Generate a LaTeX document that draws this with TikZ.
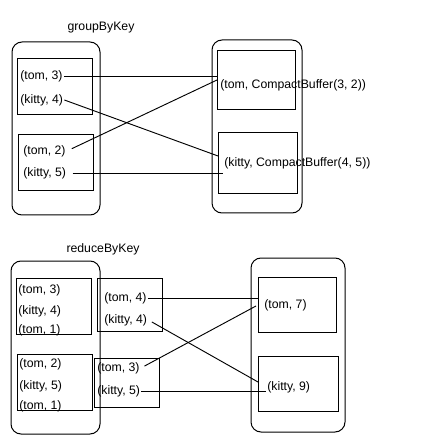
\documentclass[tikz,border=0pt]{standalone}
\usepackage{fontspec}
\setmainfont{Liberation Sans}
\usepackage{tikz}
\usetikzlibrary{positioning}

\begin{document}
\begin{tikzpicture}[x=0.75pt, y=-0.75pt,
      group/.style 2 args={draw, rounded corners=7.5pt, inner sep=0pt, line width=0.75pt, minimum width=#1*0.75pt, minimum height=#2*0.75pt},
      part/.style 2 args={draw, inner sep=0pt, line width=0.75pt, minimum width=#1*0.75pt, minimum height=#2*0.75pt},
      pair/.style={anchor=west, inner sep=0.8pt, font=\fontsize{9.2pt}{11pt}\selectfont},
      title/.style={inner sep=0pt, font=\fontsize{9.2pt}{11pt}\selectfont},
      link/.style={line width=0.7pt}
    ]
    \useasboundingbox (0,0) rectangle (420,448);
    % groupByKey
    \node[title] (gbk) at (101,28) {groupByKey};
    \node[group={88}{173}] (gbsrc) at (56,128.5) {};
    \node[part={75}{56}] (gbp1) at (54.5,87) {};
    \node[part={75}{56}] (gbp2) at (55.5,163) {};
    \node[pair] (gt3) at (19,76) {(tom, 3)};
    \node[pair, below=18pt of gt3.west, anchor=west] (gk4) {(kitty, 4)};
    \node[pair] (gt2) at (22,151) {(tom, 2)};
    \node[pair, below=17pt of gt2.west, anchor=west] (gk5) {(kitty, 5)};
    \node[group={90}{173}] (gbdst) at (257,126.5) {};
    \node[part={78}{59}] (gbq1) at (256,80.5) {};
    \node[part={79}{61}] (gbq2) at (257.5,163.5) {};
    \node[pair] (gtom) at (219,85) {(tom, CompactBuffer(3, 2))};
    \node[pair] (gkitty) at (223,163) {(kitty, CompactBuffer(4, 5))};
    \coordinate (gin1) at (217,80);
    \coordinate (gin2) at (218,156);
    \draw[link] (gt3.east) -- (gt3.east -| gbq1.west);
    \draw[link] (gk4.east) -- (gin2);
    \draw[link, shorten <=4pt] (gt2.east) -- (gin1);
    \draw[link, shorten <=4pt] (gk5.east) -- (gk5.east -| gkitty.west);
    % reduceByKey
    \node[title] (rbk) at (103,249) {reduceByKey};
    \node[group={89}{173}] (rbsrc) at (55.5,347.5) {};
    \node[part={75}{56}] (rbp1) at (53.5,306) {};
    \node[part={75}{56}] (rbp2) at (54.5,382) {};
    \node[pair] (ra3) at (17,290) {(tom, 3)};
    \node[pair] (ra4) at (17,311) {(kitty, 4)};
    \node[pair] (ra1) at (17,330) {(tom, 1)};
    \node[pair] (rb2) at (18,364) {(tom, 2)};
    \node[pair] (rb5) at (18,386) {(kitty, 5)};
    \node[pair] (rb1) at (18,406) {(tom, 1)};
    \node[part={65}{53}] (rbm1) at (129.5,304.5) {};
    \node[part={65}{49}] (rbm2) at (126.5,382.5) {};
    \node[pair] (rt4) at (103,298) {(tom, 4)};
    \node[pair] (rk4) at (103,320) {(kitty, 4)};
    \node[pair] (rt3) at (96,368) {(tom, 3)};
    \node[pair] (rk5) at (96,391) {(kitty, 5)};
    \node[group={94}{174}] (rbdst) at (298,345) {};
    \node[part={78}{55}] (rbq1) at (297,304.5) {};
    \node[part={80}{55}] (rbq2) at (298,383.5) {};
    \node[pair] (rt7) at (263,305) {(tom, 7)};
    \node[pair] (rk9) at (266,387) {(kitty, 9)};
    \coordinate (rin1) at (256,306);
    \coordinate (rin2) at (258,382);
    \draw[link] (rt4.east) -- (rt4.east -| rbq1.west);
    \draw[link, shorten <=3pt] (rk4.east) -- (rin2);
    \draw[link, shorten <=3pt] (rt3.east) -- (rin1);
    \draw[link] (rk5.east) -- (rk5.east -| rk9.west);
  \end{tikzpicture}
\end{document}
